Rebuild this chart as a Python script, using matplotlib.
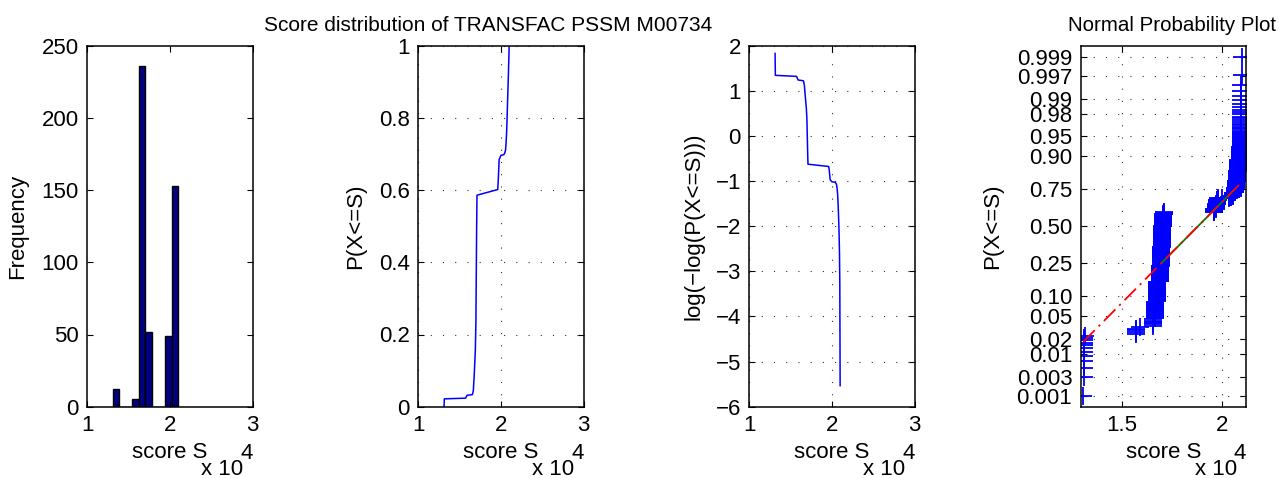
import numpy as np
import matplotlib.pyplot as plt
from statistics import NormalDist

plt.rcParams['font.family'] = ['Liberation Sans', 'DejaVu Sans']
plt.rcParams['font.size'] = 16

# distinct PSSM scores and how many sites got each one
score_values = np.array([13090, 13120, 13150, 15720, 15900,
                         16550, 16660, 16760, 16900, 16970, 17010, 17060, 17100,
                         19610, 19670, 19730, 19780, 20000,
                         20350, 20450, 20550, 20620, 20680, 20740, 20800,
                         20860, 20910, 20950, 20990])
score_counts = np.array([1, 10, 1, 4, 1,
                         6, 20, 36, 40, 60, 74, 44, 8,
                         12, 16, 14, 6, 1,
                         2, 4, 10, 14, 20, 24, 22,
                         20, 18, 17, 2])

prob_ticks = [0.001, 0.003, 0.01, 0.02, 0.05, 0.10, 0.25, 0.50,
              0.75, 0.90, 0.95, 0.98, 0.99, 0.997, 0.999]
prob_labels = ['0.001', '0.003', '0.01', '0.02', '0.05', '0.10', '0.25', '0.50',
               '0.75', '0.90', '0.95', '0.98', '0.99', '0.997', '0.999']

sample = np.repeat(score_values, score_counts) / 1e4
n = sample.size
xs = score_values / 1e4
p_below = np.concatenate([[0], np.cumsum(score_counts)[:-1]]) / n

W, H = 1279, 478
fig = plt.figure(figsize=(W / 100, H / 100), dpi=100)
lefts = [87.3, 418.3, 749.3, 1080.7]
axes = [fig.add_axes([l / W, (H - 406.7) / H, 165.3 / W, 361 / H]) for l in lefts]
ax1, ax2, ax3, ax4 = axes

grid_style = dict(color='0.2', linestyle=(0, (1, 10)), linewidth=0.8)

for ax in axes:
    ax.tick_params(direction='in', top=True, right=True, length=4.5, width=0.8, pad=6)
    for s in ax.spines.values():
        s.set_linewidth(1.1)

# histogram
ax1.hist(sample, bins=10, color='#000080', edgecolor='black', linewidth=1)
ax1.set_xlim(1, 3)
ax1.set_ylim(0, 250)
ax1.set_xticks([1, 2, 3])
ax1.set_yticks(range(0, 251, 50))
ax1.set_ylabel('Frequency', va='center')
ax1.yaxis.set_label_coords(-0.423, 0.5)

# cumulative distribution
ax2.plot(xs, p_below, color='b', linewidth=1.1)
ax2.set_xlim(1, 3)
ax2.set_ylim(0, 1)
ax2.set_xticks([1, 2, 3])
ax2.set_yticks([0, 0.2, 0.4, 0.6, 0.8, 1])
ax2.set_yticklabels(['0', '0.2', '0.4', '0.6', '0.8', '1'])
ax2.grid(True, **grid_style)
ax2.set_ylabel('P(X<=S)', va='center')
ax2.yaxis.set_label_coords(-0.377, 0.5)
ax2.set_title('Score distribution of TRANSFAC PSSM M00734', fontsize=15, pad=10.5, x=0.422)

# log(-log(P))
with np.errstate(divide='ignore'):
    llp = np.log(-np.log(p_below))
ok = np.isfinite(llp)
ax3.plot(xs[ok], llp[ok], color='b', linewidth=1.1)
ax3.set_xlim(1, 3)
ax3.set_ylim(-6, 2)
ax3.set_xticks([1, 2, 3])
ax3.set_yticks(range(-6, 3))
ax3.grid(True, **grid_style)
ax3.set_ylabel('log(\u2212log(P(X<=S)))', va='center')
ax3.yaxis.set_label_coords(-0.335, 0.5)

# normal probability plot
nd = NormalDist()
z = np.array([nd.inv_cdf((i - 0.5) / n) for i in range(1, n + 1)])
ax4.plot(np.sort(sample), z, '+', color='b', markersize=13, markeredgewidth=1.3)
q1, q3 = np.percentile(sample, [25, 75])
z1, z3 = nd.inv_cdf(0.25), nd.inv_cdf(0.75)
slope = (z3 - z1) / (q3 - q1)
xr = np.array([sample.min(), sample.max()])
ax4.plot([q1, q3], [z1, z3], color=(0, 0.5, 0), linewidth=1.3)
ax4.plot(xr, z1 + slope * (xr - q1), color='r', linestyle=(0, (9, 3, 1.2, 3)), linewidth=1.3)
zlim = -nd.inv_cdf(0.25 / n)
ax4.set_ylim(-zlim, zlim)
ax4.set_xlim(1.296, 2.118)
ax4.set_xticks([1.5, 2])
ax4.set_xticklabels(['1.5', '2'])
ax4.set_yticks([nd.inv_cdf(p) for p in prob_ticks])
ax4.set_yticklabels(prob_labels)
ax4.grid(True, **grid_style)
ax4.set_ylabel('P(X<=S)', va='center')
ax4.yaxis.set_label_coords(-0.534, 0.5)
ax4.set_title('Normal Probability Plot', fontsize=14.8, pad=10.5, x=0.555)

for ax in axes:
    ax.text(0.5, -0.143, 'score S', transform=ax.transAxes, ha='center', va='baseline')
    ax.text(0.945, -0.19, 'x 10', transform=ax.transAxes, ha='right', va='baseline')
    ax.text(1.0, -0.145, '4', transform=ax.transAxes, ha='right', va='baseline')

fig.savefig('out.png', dpi=100)
